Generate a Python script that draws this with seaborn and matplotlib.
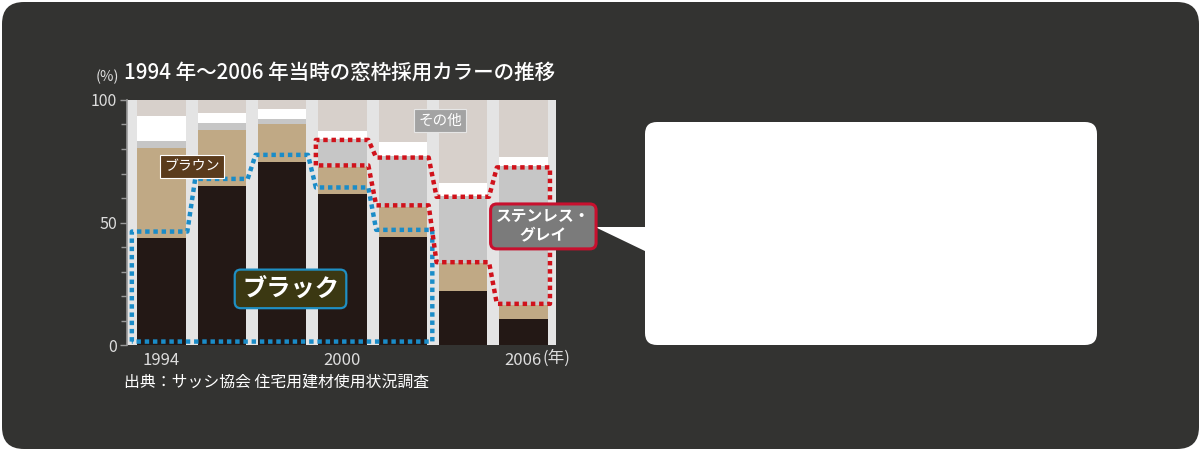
import matplotlib
matplotlib.use("Agg")
import matplotlib.pyplot as plt
from matplotlib.patches import FancyBboxPatch, Polygon
import numpy as np
import pandas as pd
import seaborn as sns

# データ（グラフから読み取った値, %）
years = ["1994", "1996", "1998", "2000", "2002", "2004", "2006"]
black = [43.5, 65.0, 74.8, 61.5, 44.2, 22.0, 10.5]
brown = [36.8, 22.9, 15.4, 11.3, 12.3, 11.3, 5.8]
stainless = [3.0, 2.8, 1.9, 11.4, 20.5, 27.7, 56.7]
white = [10.2, 3.9, 4.4, 3.0, 6.0, 5.3, 3.9]
other = [6.5, 5.4, 3.5, 12.8, 17.0, 33.7, 23.1]
xtick_years = ["1994", "2000", "2006"]

title = "1994 年～2006 年当時の窓枠採用カラーの推移"
source = "出典：サッシ協会 住宅用建材使用状況調査"

sns.set_theme(style="white")
plt.rcParams["font.family"] = ["Noto Sans CJK JP", "DejaVu Sans"]

df = pd.DataFrame({"year": years, "black": black, "brown": brown,
                   "stainless": stainless, "white": white, "other": other})
# 積み上げ用の累積値
df["c_black"] = df["black"]
df["c_brown"] = df["c_black"] + df["brown"]
df["c_stainless"] = df["c_brown"] + df["stainless"]
df["c_white"] = df["c_stainless"] + df["white"]
df["c_other"] = df["c_white"] + df["other"]

fig = plt.figure(figsize=(12.01, 4.51), dpi=100)
fig.patch.set_facecolor("white")

# 背景用の軸（ピクセル座標）
bg = fig.add_axes([0, 0, 1, 1], zorder=0)
bg.set_xlim(0, 1201)
bg.set_ylim(451, 0)
bg.axis("off")
bg.add_patch(FancyBboxPatch((2, 2), 1197, 447, boxstyle="round,pad=0,rounding_size=22",
                            fc="#333331", ec="none"))
# 吹き出し
bg.add_patch(FancyBboxPatch((645, 122), 452, 223, boxstyle="round,pad=0,rounding_size=12",
                            fc="white", ec="none"))
bg.add_patch(Polygon([(595, 227), (647, 227), (647, 252)], closed=True, fc="white", ec="none"))

bg.text(124, 73, title, color="white", fontsize=14.8, fontweight="medium", va="center", ha="left")
bg.text(119, 77, "(%)", color="#dddddd", fontsize=10.5, va="center", ha="right")
bg.text(124, 383, source, color="white", fontsize=11.4, va="center", ha="left")
bg.text(543, 358, "(年)", color="#dddddd", fontsize=12, va="center", ha="left")

# グラフ本体
ax = fig.add_axes([127 / 1201, 106 / 451, 429 / 1201, 245 / 451], zorder=1)
ax.set_facecolor("#e4e4e4")

layers = [("c_other", "#d7d0cb"), ("c_white", "#ffffff"), ("c_stainless", "#c6c6c6"),
          ("c_brown", "#c0a985"), ("c_black", "#231815")]
for col, colr in layers:
    sns.barplot(data=df, x="year", y=col, color=colr, width=0.8, saturation=1,
                errorbar=None, edgecolor="none", ax=ax)

ax.set_xlim(-0.57, 6.54)
ax.set_ylim(0, 100)
ax.set_xlabel("")
ax.set_ylabel("")

ax.set_yticks([0, 50, 100])
ax.set_yticks(np.arange(10, 100, 10), minor=True)
ax.tick_params(axis="y", which="both", left=True, direction="out", color="#9a9a9a",
               labelcolor="#dddddd", labelsize=11.5, length=5, width=1, pad=2)
ax.tick_params(axis="y", which="minor", length=4)
ax.set_xticks([years.index(y) for y in xtick_years])
ax.set_xticklabels(xtick_years)
ax.tick_params(axis="x", length=0, labelcolor="#dddddd", labelsize=12, pad=5)
for s in ["top", "right", "bottom"]:
    ax.spines[s].set_visible(False)
ax.spines["left"].set_color("#9a9a9a")
ax.spines["left"].set_linewidth(1.2)


# 点線の囲み（上側・下側の値から階段状の枠を作る）
def outline(idx, top, bottom, lo=0.44, ro=0.43, edge=0.47):
    xs, ys = [idx[0] - edge], [bottom[0]]
    for k, i in enumerate(idx):
        l = i - (edge if k == 0 else lo)
        r = i + (edge if k == len(idx) - 1 else ro)
        xs += [l, r]
        ys += [top[k], top[k]]
    for k in range(len(idx) - 1, -1, -1):
        i = idx[k]
        l = i - (edge if k == 0 else lo)
        r = i + (edge if k == len(idx) - 1 else ro)
        xs += [r, l]
        ys += [bottom[k], bottom[k]]
    xs.append(xs[0])
    ys.append(ys[0])
    return xs, ys


dots = (0, (1.0, 0.85))
blue_idx = [0, 1, 2, 3, 4]
bx, by = outline(blue_idx, [black[i] + 2.8 for i in blue_idx], [1.4] * len(blue_idx), edge=0.49)
ax.plot(bx, by, color="#1a8cc8", lw=3.2, linestyle=dots, clip_on=False, zorder=4)

red_idx = [3, 4, 5, 6]
rx, ry = outline(red_idx, [df["c_stainless"][i] - 0.5 for i in red_idx],
                 [df["c_brown"][i] + 0.5 for i in red_idx], edge=0.44)
ax.plot(rx, ry, color="#d0121b", lw=3.2, linestyle=dots, clip_on=False, zorder=4)

# ラベル
ax.text(0.51, 72.9, "ブラウン", color="white", fontsize=10, ha="center", va="center", zorder=5,
        bbox=dict(boxstyle="square,pad=0.32", fc="#5a3b1c", ec="white", lw=0.8))
ax.text(4.62, 91.6, "その他", color="white", fontsize=10.5, ha="center", va="center", zorder=5,
        bbox=dict(boxstyle="square,pad=0.3", fc="#a3a3a3", ec="#e6e6e6", lw=0.8))
ax.text(2.14, 22.9, "ブラック", color="white", fontsize=17.5, fontweight="bold", ha="center",
        va="center", zorder=5,
        bbox=dict(boxstyle="round,pad=0.3,rounding_size=0.25", fc="#3b3812", ec="#1f8fc3", lw=1.6))
ax.text(6.33, 48.4, "ステンレス・\nグレイ", color="white", fontsize=11.3, fontweight="bold",
        ha="center", va="center", linespacing=1.15, zorder=5, clip_on=False,
        bbox=dict(boxstyle="round,pad=0.35,rounding_size=0.4", fc="#7b7b7b", ec="#c8102e", lw=2.2))

fig.savefig("out.png", dpi=100, facecolor="white")
